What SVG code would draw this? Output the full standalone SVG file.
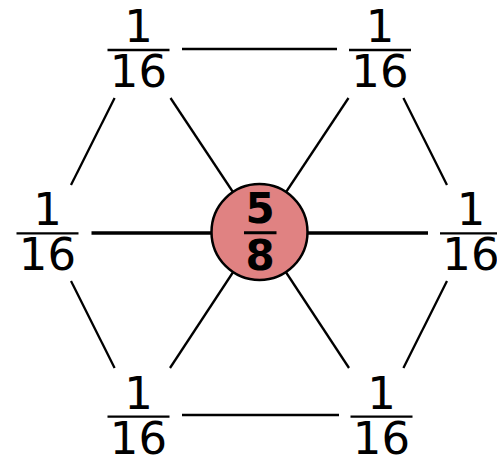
<svg xmlns="http://www.w3.org/2000/svg" width="497" height="459" viewBox="0 0 497 459">
<style>
.num{font-family:"DejaVu Sans",sans-serif;font-size:45px;fill:#000;text-anchor:middle}
.cnum{font-family:"DejaVu Sans",sans-serif;font-size:42px;font-weight:bold;fill:#000;text-anchor:middle}
.bar{stroke:#000;stroke-width:2.3}
.e{stroke:#000;stroke-width:2.3;fill:none}
.eh{stroke:#000;stroke-width:3.5;fill:none}
</style>
<rect width="497" height="459" fill="#fff"/>
<g id="connectors">
<line class="e" x1="182" y1="49" x2="337" y2="49"/>
<line class="e" x1="182" y1="415" x2="339" y2="415"/>
<line class="e" x1="114.6" y1="98" x2="71" y2="185"/>
<line class="e" x1="71" y1="281" x2="114.6" y2="368"/>
<line class="e" x1="403.4" y1="98" x2="447" y2="185"/>
<line class="e" x1="447" y1="281" x2="403.4" y2="368"/>
<line class="e" x1="170.5" y1="98" x2="259.5" y2="232"/>
<line class="e" x1="348.5" y1="98" x2="259.5" y2="232"/>
<line class="e" x1="170" y1="368" x2="259.5" y2="232"/>
<line class="e" x1="349" y1="368" x2="259.5" y2="232"/>
<line class="eh" x1="91.5" y1="233" x2="259.5" y2="233"/>
<line class="eh" x1="428" y1="233" x2="259.5" y2="233"/>
</g>
<g id="center">
<circle cx="259.5" cy="232" r="48" fill="#e08282" stroke="#000" stroke-width="2.5"/>
<text class="cnum" x="260" y="222.5">5</text>
<line x1="244" y1="232.7" x2="276.5" y2="232.7" stroke="#000" stroke-width="3"/>
<text class="cnum" x="260" y="269.5">8</text>
</g>
<g id="tl">
<text class="num" x="138.5" y="42">1</text>
<line class="bar" x1="107.5" y1="50" x2="169.5" y2="50"/>
<text class="num" x="138.5" y="87">16</text>
</g>
<g id="tr">
<text class="num" x="380" y="42">1</text>
<line class="bar" x1="349" y1="50" x2="411" y2="50"/>
<text class="num" x="380" y="87">16</text>
</g>
<g id="l">
<text class="num" x="47.5" y="225">1</text>
<line class="bar" x1="16.5" y1="233.3" x2="78.5" y2="233.3"/>
<text class="num" x="47.5" y="270.3">16</text>
</g>
<g id="r">
<text class="num" x="471" y="225">1</text>
<line class="bar" x1="440" y1="233.3" x2="502" y2="233.3"/>
<text class="num" x="471" y="270.3">16</text>
</g>
<g id="bl">
<text class="num" x="138.5" y="408.5">1</text>
<line class="bar" x1="107.5" y1="416.7" x2="169.5" y2="416.7"/>
<text class="num" x="138.5" y="453.5">16</text>
</g>
<g id="br">
<text class="num" x="381.5" y="408.5">1</text>
<line class="bar" x1="350.5" y1="416.7" x2="412.5" y2="416.7"/>
<text class="num" x="381.5" y="453.5">16</text>
</g>
</svg>
